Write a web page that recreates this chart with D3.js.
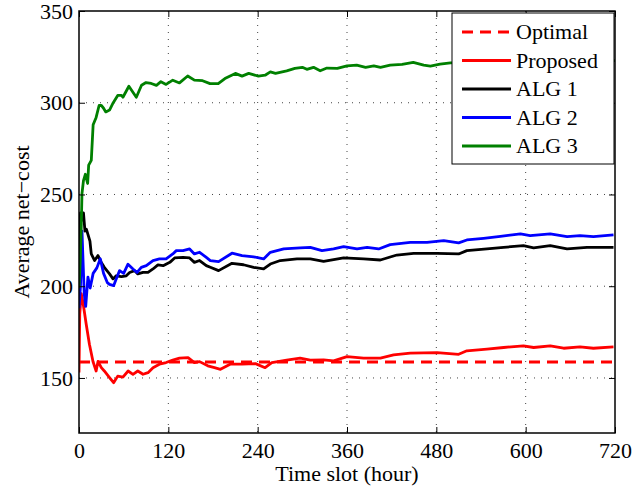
<!DOCTYPE html>
<html>
<head>
<meta charset="utf-8">
<script src="https://cdn.jsdelivr.net/npm/d3@7"></script>
<style>
  body { margin: 0; background: #fff; }
  text { font-family: "Liberation Serif", "Times New Roman", serif; }
</style>
</head>
<body>
<div id="chart"></div>
<script>
// x ticks and y ticks
var xTicks = [0, 120, 240, 360, 480, 600, 720];
var yTicks = [150, 200, 250, 300, 350];

var optimalValue = 158.7;

// [time slot, average net-cost]
var proposed = [[0,153],[1,184.8],[3,196],[5.4,191],[9.8,179],[14,168.4],[18.8,159],[23,153.8],[25.5,159],[30,155.6],[34,153.8],[41,150.2],[46.5,147.4],[52,151],[59,150.5],[66,153.8],[72.5,152],[79,153.8],[86,152],[92.7,152.9],[99.4,155.6],[108,157.5],[117,158.4],[126,159.7],[135,160.8],[146.5,161.1],[155,158.4],[162,158.9],[173,156.6],[182,155.6],[190,154.7],[203,157.5],[219,157.5],[237,157.8],[250,155.6],[259,158.4],[279,159.7],[297,160.8],[310.7,159.7],[328.6,159.8],[342,159.3],[360,161.6],[382.3,160.8],[404.8,160.8],[422.6,162.6],[445,163.5],[481,163.8],[510,162.9],[521,164.8],[548,165.7],[570.4,166.6],[597,167.5],[610.7,166.6],[633,167.5],[651,166.2],[673,166.9],[691,166.2],[718,166.9]];

var alg1 = [[0,215],[2,240],[4,236],[6,240],[8,230],[10,231],[14.7,224.6],[16.5,217.6],[21,214],[25.5,216.7],[30,213],[34,210.3],[41,206.7],[45.7,204],[50,205.7],[57,205.2],[63.5,205.7],[68,207.5],[74.7,208.5],[79,206.7],[86,207.5],[92.7,207.5],[99.4,209.4],[106,211.6],[113,211.2],[122,213],[128.5,215.4],[139.7,215.7],[148.6,215.4],[155,213],[162,214],[171,211.2],[176.4,210.3],[187.5,208.5],[205.5,212.5],[221,211.7],[234.6,210.3],[248,209.4],[257,212.1],[270.4,214],[292.8,214.9],[310.7,214.9],[328.6,213.6],[355.5,215.4],[382.3,214.9],[404.8,214.3],[427,217],[449.5,217.9],[481,217.9],[510,217.6],[521,219.4],[548,220.3],[570.4,221.2],[597,222.1],[610.7,220.9],[633,222.1],[655.6,220.3],[682.4,221.2],[718,221.2]];

var alg2 = [[0,188],[2,200],[4,230],[7,196],[9,189],[12,205],[15,199],[19,207],[24,210],[28.6,215],[33,207],[38,202],[41,201],[46.5,200.3],[50,204],[54.5,208.5],[60,207],[65.8,212],[72.5,209.4],[78,207.5],[83.7,210.3],[90.4,211.2],[99.4,214],[108,214.9],[117,214.9],[126,217.6],[130.7,219.4],[139.7,219.4],[148.6,220.3],[155,217.6],[162,218.5],[171,215.7],[176.4,214],[187.5,213.4],[205.5,218],[219,216.7],[234.6,216],[248,214.9],[257,218.5],[275,220.3],[297,220.9],[310.7,221.2],[326.4,219.4],[342,220.3],[355.5,221.6],[373.5,220.3],[387,221.2],[402.5,220.3],[418,222.7],[445,223.9],[467.5,223.9],[490,224.9],[510,223.6],[521,225.2],[543.5,226.1],[566,227.2],[593,228.5],[606,227.6],[633,228.5],[655.6,227],[673,227.6],[691,227],[718,228]];

var alg3 = [[0,199],[1.7,214],[3,232],[4,250.5],[6,257.6],[8.5,261],[11.6,256],[13,266],[16.5,268.6],[19,288],[23,292],[27,298.5],[30,298.5],[33,297],[36,295],[41,296],[46,300],[52,304],[57,304],[59,303],[63,306],[67,309],[72,306],[77,303],[84,309.5],[90,311],[97,310.5],[104,309.5],[110,311.5],[117,310],[126,312.3],[135,310.8],[146,314.6],[155,312.3],[166,312],[176,310.4],[187,310.4],[196,313.2],[210,316],[219,314.5],[228,316],[241,314.5],[250,315],[257,316.8],[264,316],[279,317.4],[290,318.7],[300,319.3],[306,318.2],[315,319.3],[324,317.4],[333,318.9],[347,318.7],[360,320.1],[373,320.5],[385,319.3],[396,320.1],[405,319.3],[418,320.5],[434,320.9],[449,322],[463,320.5],[472,320],[485,321],[499,321.7],[520,322],[560,322.5],[600,323],[650,322.8],[690,323],[720,323]];

var legendNames = ["Optimal", "Proposed", "ALG 1", "ALG 2", "ALG 3"];
var legendColors = ["#ff0000", "#ff0000", "#000000", "#0000ff", "#008000"];

var margin = {top: 11, right: 19, bottom: 58, left: 79},
    width = 634 - margin.left - margin.right,
    height = 491 - margin.top - margin.bottom;

var svg = d3.select("#chart")
  .append("svg")
    .attr("width", 634)
    .attr("height", 491)
  .append("g")
    .attr("transform", `translate(${margin.left},${margin.top})`);

var x = d3.scaleLinear().domain([0, 720]).range([0, width]);
var y = d3.scaleLinear().domain([120, 350]).range([height, 0]);

svg.append("defs").append("clipPath").attr("id", "clip")
  .append("rect").attr("width", width).attr("height", height);

// dotted grid
var grid = svg.append("g").attr("stroke", "#444").attr("stroke-width", 1)
  .attr("stroke-dasharray", "1,6");
grid.selectAll(".gx").data(xTicks.slice(1, -1)).enter().append("line")
  .attr("x1", d => x(d)).attr("x2", d => x(d))
  .attr("y1", 0).attr("y2", height);
grid.selectAll(".gy").data(yTicks.slice(0, -1)).enter().append("line")
  .attr("x1", 0).attr("x2", width)
  .attr("y1", d => y(d)).attr("y2", d => y(d));

// lines
var line = d3.line().x(d => x(d[0])).y(d => y(d[1]));
var plot = svg.append("g").attr("clip-path", "url(#clip)").attr("fill", "none");

plot.append("line")
  .attr("x1", x(0)).attr("x2", x(720))
  .attr("y1", y(optimalValue)).attr("y2", y(optimalValue))
  .attr("stroke", "#ff0000").attr("stroke-width", 2.8)
  .attr("stroke-dasharray", "11,7");

[[proposed, "#ff0000"], [alg1, "#000000"], [alg2, "#0000ff"], [alg3, "#008000"]].forEach(function(s) {
  plot.append("path").datum(s[0])
    .attr("stroke", s[1]).attr("stroke-width", 2.8)
    .attr("stroke-linejoin", "round")
    .attr("d", line);
});

// axes: ticks inward on all four sides
var xAxis = svg.append("g").attr("transform", `translate(0,${height})`)
  .call(d3.axisBottom(x).tickValues(xTicks).tickSizeInner(-6).tickSizeOuter(0).tickPadding(9));
var xAxisTop = svg.append("g")
  .call(d3.axisTop(x).tickValues(xTicks).tickSizeInner(-6).tickSizeOuter(0).tickFormat(""));
var yAxis = svg.append("g")
  .call(d3.axisLeft(y).tickValues(yTicks).tickSizeInner(-6).tickSizeOuter(0).tickPadding(6));
var yAxisRight = svg.append("g").attr("transform", `translate(${width},0)`)
  .call(d3.axisRight(y).tickValues(yTicks).tickSizeInner(-6).tickSizeOuter(0).tickFormat(""));

[xAxis, xAxisTop, yAxis, yAxisRight].forEach(function(a) {
  a.select(".domain").remove();
  a.selectAll("line").attr("stroke", "#000");
  a.selectAll("text").attr("font-size", 22).attr("fill", "#000")
    .style("font-family", "'Liberation Serif', serif");
});

svg.append("rect")
  .attr("width", width).attr("height", height)
  .attr("fill", "none").attr("stroke", "#000").attr("stroke-width", 1.5);

// axis labels
svg.append("text")
  .attr("x", width / 2).attr("y", height + 48)
  .attr("text-anchor", "middle").attr("font-size", 22)
  .text("Time slot (hour)");

svg.append("text")
  .attr("transform", `translate(${-50},${height / 2}) rotate(-90)`)
  .attr("text-anchor", "middle").attr("font-size", 22)
  .text("Average net\u2212cost");

// legend
var legend = svg.append("g").attr("transform", `translate(${452 - margin.left},${13 - margin.top})`);
legend.append("rect")
  .attr("width", 162).attr("height", 151)
  .attr("fill", "#fff").attr("stroke", "#000").attr("stroke-width", 1);

var rows = legend.selectAll(".row").data(legendNames).enter().append("g")
  .attr("transform", (d, i) => `translate(0,${19 + i * 28.5})`);
rows.append("line")
  .attr("x1", 10).attr("x2", 59)
  .attr("stroke", (d, i) => legendColors[i]).attr("stroke-width", 2.8)
  .attr("stroke-dasharray", (d, i) => i === 0 ? "11,7" : null);
rows.append("text")
  .attr("x", 64).attr("dy", "0.33em").attr("font-size", 22)
  .text(d => d);
</script>
</body>
</html>
